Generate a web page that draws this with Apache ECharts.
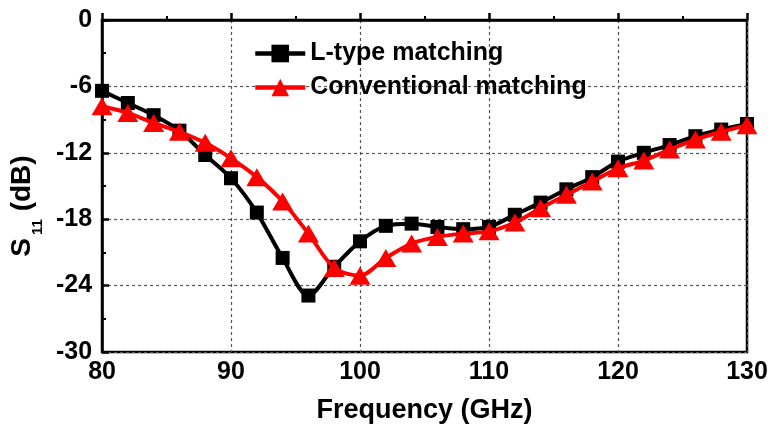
<!DOCTYPE html>
<html>
<head>
<meta charset="utf-8">
<script src="https://cdn.jsdelivr.net/npm/echarts@6/dist/echarts.min.js"></script>
<style>html,body{margin:0;padding:0;background:#fff;}#c{width:773px;height:429px;}</style>
</head>
<body>
<div id="c"></div>
<script>
var freq = [80,82,84,86,88,90,92,94,96,98,100,102,104,106,108,110,112,114,116,118,120,122,124,126,128,130];
var lType = [-6.4,-7.5,-8.6,-10.0,-12.2,-14.3,-17.4,-21.5,-24.9,-22.3,-20.0,-18.6,-18.4,-18.7,-18.9,-18.7,-17.6,-16.5,-15.3,-14.2,-12.8,-12.0,-11.3,-10.5,-9.9,-9.4];
var conv = [-7.8,-8.4,-9.3,-10.1,-11.1,-12.5,-14.2,-16.4,-19.3,-22.4,-23.1,-21.5,-20.2,-19.6,-19.3,-19.1,-18.3,-17.0,-15.8,-14.6,-13.4,-12.7,-11.7,-10.8,-10.1,-9.5];
var seriesNames = ['L-type matching','Conventional matching'];
var xTitle = 'Frequency (GHz)';

function pairs(v){ return freq.map(function(f,i){ return [f, v[i]]; }); }
var font = 'Liberation Sans, Arial, sans-serif';
var chart = echarts.init(document.getElementById('c'), null, {renderer:'canvas'});
chart.setOption({
  animation:false,
  backgroundColor:'#fff',
  grid:{left:101, right:26, top:20, bottom:77, show:true, borderColor:'#000', borderWidth:2.5, backgroundColor:'transparent'},
  legend:{
    orient:'vertical', left:248, top:36, itemWidth:50, itemHeight:22, itemGap:9,
    lineStyle:{width:4.5},
    textStyle:{fontFamily:font, fontWeight:'bold', fontSize:25, color:'#000'},
    data:seriesNames
  },
  xAxis:{
    type:'value', min:80, max:130, interval:10,
    name:xTitle, nameLocation:'middle', nameGap:45,
    nameTextStyle:{fontFamily:font, fontWeight:'bold', fontSize:27, color:'#000'},
    axisLine:{lineStyle:{color:'#000', width:2.5}},
    axisTick:{inside:true, length:7, lineStyle:{color:'#000', width:2.5}},
    minorTick:{show:true, splitNumber:2, length:4, lineStyle:{color:'#000', width:2}},
    axisLabel:{fontFamily:font, fontWeight:'bold', fontSize:25, color:'#000', margin:8},
    splitLine:{show:true, lineStyle:{color:'#555', type:[3,3], width:1.2}}
  },
  yAxis:{
    type:'value', min:-30, max:0, interval:6,
    name:'{a|S}{s|11}{a| (dB)}', nameLocation:'middle', nameGap:61, nameRotate:90,
    nameTextStyle:{padding:[0,40,0,0], rich:{
      a:{fontFamily:font, fontWeight:'bold', fontSize:28, color:'#000'},
      s:{fontFamily:font, fontWeight:'bold', fontSize:15, color:'#000', verticalAlign:'bottom', padding:[0,0,-9,3]}
    }},
    axisLine:{lineStyle:{color:'#000', width:2.5}},
    axisTick:{inside:true, length:7, lineStyle:{color:'#000', width:2.5}},
    minorTick:{show:true, splitNumber:2, length:4, lineStyle:{color:'#000', width:2}},
    axisLabel:{fontFamily:font, fontWeight:'bold', fontSize:25, color:'#000', margin:10},
    splitLine:{show:true, lineStyle:{color:'#555', type:[3,3], width:1.2}}
  },
  series:[
    {name:seriesNames[0], type:'line', data:pairs(lType), smooth:0.3,
     symbol:'rect', symbolSize:14, itemStyle:{color:'#000'}, lineStyle:{color:'#000', width:4}, z:3},
    {name:seriesNames[1], type:'line', data:pairs(conv), smooth:0.3,
     symbol:'triangle', symbolSize:[21,18], itemStyle:{color:'#ff0000'}, lineStyle:{color:'#ff0000', width:4}, z:4}
  ]
});
</script>
</body>
</html>
